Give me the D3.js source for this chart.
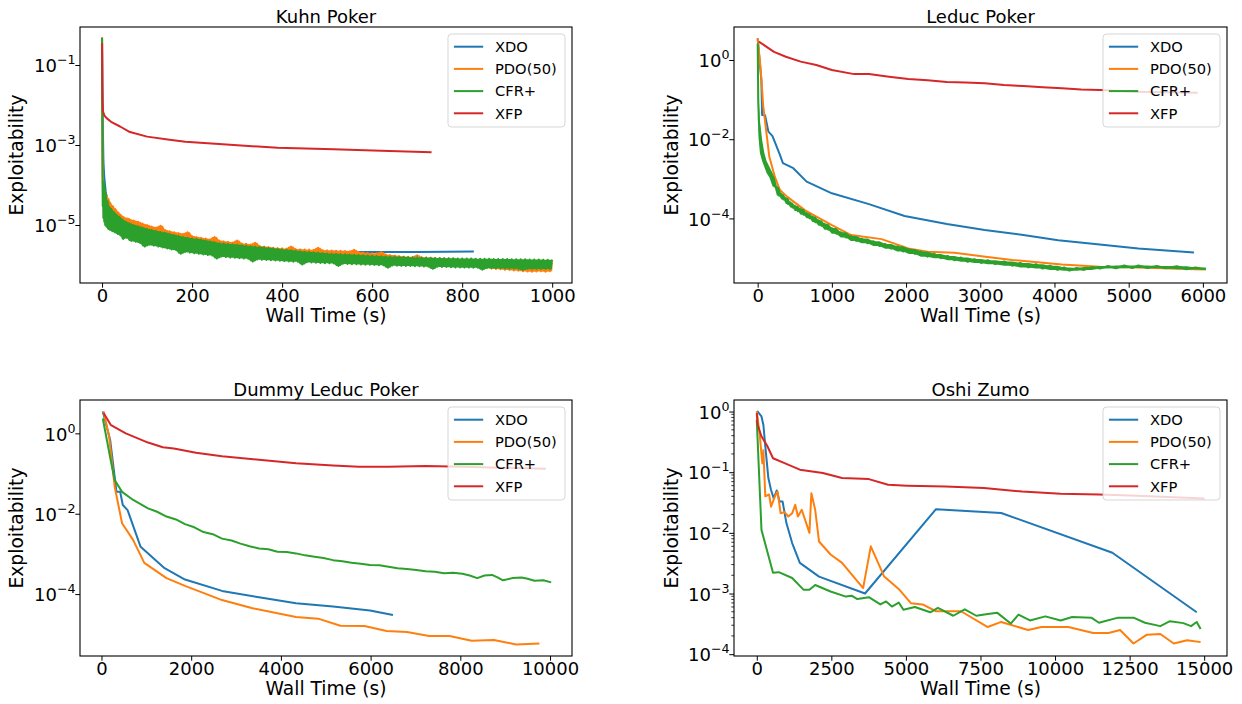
<!DOCTYPE html>
<html><head><meta charset="utf-8">
<script src="https://cdn.jsdelivr.net/npm/d3@7"></script>
<style>
body{margin:0;background:#fff}
svg{display:block}
text{font-family:"DejaVu Sans",sans-serif;fill:#000}
</style>
</head><body>
<svg id="c" width="1242" height="704"></svg>
<script>
// ---------------- data ----------------
const seriesNames = ["XDO", "PDO(50)", "CFR+", "XFP"];
const seriesColors = ["#1f77b4", "#ff7f0e", "#2ca02c", "#d62728"];
const titles = ["Kuhn Poker", "Leduc Poker", "Dummy Leduc Poker", "Oshi Zumo"];
const xLabel = "Wall Time (s)";
const yLabel = "Exploitability";
const xTickSets = [
  [0, 200, 400, 600, 800, 1000],
  [0, 1000, 2000, 3000, 4000, 5000, 6000],
  [0, 2000, 4000, 6000, 8000, 10000],
  [0, 2500, 5000, 7500, 10000, 12500, 15000]
];
const yTickSets = [
  [1e-5, 1e-3, 1e-1],
  [1e-4, 1e-2, 1],
  [1e-4, 1e-2, 1],
  [1e-4, 1e-3, 1e-2, 1e-1, 1]
];

// Kuhn Poker
const kuhnXdoT = [0, 1, 2, 3, 5, 8, 12, 20, 35, 60, 100, 150, 200, 300, 400, 500, 560, 700, 826];
const kuhnXdoE = [0.45, 3e-2, 2e-3, 4e-4, 1.5e-4, 7e-5, 4e-5, 2.5e-5, 1.5e-5, 1e-5, 7e-6, 5e-6, 3.8e-6, 2.8e-6, 2.3e-6, 2.15e-6, 2.1e-6, 2.12e-6, 2.18e-6];
const kuhnT = [0, 0.5, 1, 1.5, 2, 3, 4, 5, 6, 7, 8, 10, 12, 14, 16, 18, 20, 23, 26, 29, 32, 35, 38, 41, 44, 47, 50, 55,
  60, 65, 70, 75, 80, 85, 90, 95, 100, 105, 110, 115, 120, 125, 130, 135, 140, 145, 150, 155, 160, 165, 170, 175, 180, 185, 190, 195,
  200, 205, 210, 215, 220, 225, 230, 235, 240, 245, 250, 255, 260, 265, 270, 275, 280, 285, 290, 295,
  300, 305, 310, 315, 320, 325, 330, 335, 340, 345, 350, 355, 360, 365, 370, 375, 380, 385, 390, 395,
  400, 405, 410, 415, 420, 425, 430, 435, 440, 445, 450, 455, 460, 465, 470, 475, 480, 485, 490, 495,
  500, 505, 510, 515, 520, 525, 530, 535, 540, 545, 550, 555, 560, 565, 570, 575, 580, 585, 590, 595,
  600, 605, 610, 615, 620, 625, 630, 635, 640, 645, 650, 655, 660, 665, 670, 675, 680, 685, 690, 695,
  700, 705, 710, 715, 720, 725, 730, 735, 740, 745, 750, 755, 760, 765, 770, 775, 780, 785, 790, 795,
  800, 805, 810, 815, 820, 825, 830, 835, 840, 845, 850, 855, 860, 865, 870, 875, 880, 885, 890, 895,
  900, 905, 910, 915, 920, 925, 930, 935, 940, 945, 950, 955, 960, 965, 970, 975, 980, 985, 990, 995, 1000];
const kuhnPdoE = [0.5, 5e-3, 4e-4, 1.5e-4, 6e-5, 9e-5, 5e-5, 7e-5, 4.5e-5, 6.5e-5, 4e-5, 5.5e-5, 3e-5, 4.5e-5, 2.6e-5, 3.6e-5, 2.3e-5, 3e-5, 1.9e-5, 2.5e-5, 1.6e-5, 2.1e-5, 1.4e-5, 1.8e-5, 1.25e-5, 1.6e-5, 1.15e-5, 1.45e-5,
  1.4e-5, 1.05e-5, 1.3e-5, 9.8e-6, 1.2e-5, 9e-6, 1.08e-5, 8.2e-6, 1e-5, 7.6e-6, 9.2e-6, 7e-6, 8.6e-6, 6.5e-6, 9.6e-6, 6.1e-6, 7.5e-6, 5.7e-6, 7e-6, 5.3e-6, 6.6e-6, 5e-6, 6.3e-6, 4.8e-6, 6e-6, 4.5e-6, 6.6e-6, 4.3e-6,
  5.3e-6, 4e-6, 5e-6, 3.8e-6, 4.8e-6, 3.6e-6, 4.6e-6, 3.5e-6, 4.4e-6, 3.3e-6, 5e-6, 3.2e-6, 4.1e-6, 3.1e-6, 3.9e-6, 2.95e-6, 3.8e-6, 2.85e-6, 3.65e-6, 2.75e-6,
  4.1e-6, 2.7e-6, 3.45e-6, 2.6e-6, 3.4e-6, 2.55e-6, 3.25e-6, 2.45e-6, 3.6e-6, 2.35e-6, 3e-6, 2.3e-6, 2.9e-6, 2.2e-6, 2.8e-6, 2.1e-6, 2.7e-6, 2.05e-6, 2.65e-6, 2e-6,
  2.6e-6, 1.95e-6, 2.57e-6, 1.93e-6, 2.9e-6, 1.9e-6, 2.5e-6, 1.87e-6, 2.47e-6, 1.85e-6, 2.44e-6, 1.83e-6, 2.42e-6, 1.8e-6, 2.4e-6, 1.78e-6, 2.7e-6, 1.76e-6, 2.34e-6, 1.74e-6,
  2.32e-6, 1.72e-6, 2.3e-6, 1.7e-6, 2.28e-6, 1.68e-6, 2.26e-6, 1.66e-6, 2.24e-6, 1.64e-6, 2.2e-6, 1.62e-6, 2.4e-6, 1.58e-6, 2.1e-6, 1.55e-6, 2.05e-6, 1.52e-6, 2e-6, 1.5e-6,
  1.97e-6, 1.47e-6, 1.95e-6, 1.44e-6, 2.1e-6, 1.42e-6, 1.83e-6, 1.4e-6, 1.77e-6, 1.37e-6, 1.72e-6, 1.35e-6, 1.67e-6, 1.33e-6, 1.63e-6, 1.3e-6, 1.61e-6, 1.28e-6, 1.59e-6, 1.26e-6,
  1.75e-6, 1.24e-6, 1.55e-6, 1.2e-6, 1.54e-6, 1.17e-6, 1.52e-6, 1.15e-6, 1.5e-6, 1.13e-6, 1.49e-6, 1.1e-6, 1.48e-6, 1.08e-6, 1.46e-6, 1.05e-6, 1.44e-6, 1.03e-6, 1.42e-6, 1.01e-6,
  1.4e-6, 9.8e-7, 1.38e-6, 9.5e-7, 1.37e-6, 9.2e-7, 1.35e-6, 9e-7, 1.33e-6, 8.7e-7, 1.32e-6, 8.5e-7, 1.3e-6, 8.2e-7, 1.29e-6, 8e-7, 1.27e-6, 7.8e-7, 1.26e-6, 7.6e-7,
  1.25e-6, 7.5e-7, 1.23e-6, 7.3e-7, 1.21e-6, 7.2e-7, 1.2e-6, 7e-7, 1.2e-6, 6.9e-7, 1.2e-6, 6.8e-7, 1.2e-6, 6.9e-7, 1.2e-6, 7e-7, 1.2e-6, 6.8e-7, 1.2e-6, 7e-7, 1.15e-6];
const kuhnCfrE = [0.47, 3e-3, 2e-4, 3e-5, 1.1e-4, 1.5e-5, 1.2e-4, 1.2e-5, 8e-5, 1e-5, 6e-5, 9e-6, 4e-5, 8e-6, 2.8e-5, 7.5e-6, 2.5e-5, 7e-6, 2.1e-5, 6.5e-6, 1.8e-5, 6e-6, 1.6e-5, 5.5e-6, 1.4e-5, 4.5e-6, 1.25e-5, 4.8e-6,
  1.1e-5, 4e-6, 1e-5, 3.8e-6, 9.3e-6, 3.55e-6, 8.6e-6, 2.9e-6, 7.9e-6, 3.2e-6, 7.5e-6, 3.05e-6, 7.1e-6, 2.9e-6, 6.7e-6, 2.75e-6, 6.4e-6, 2.6e-6, 6e-6, 2.45e-6, 5.6e-6, 2.35e-6, 5.3e-6, 1.9e-6, 5e-6, 2.12e-6, 4.8e-6, 2.04e-6,
  4.6e-6, 1.97e-6, 4.45e-6, 1.9e-6, 4.3e-6, 1.84e-6, 4.1e-6, 1.78e-6, 3.9e-6, 1.72e-6, 3.7e-6, 1.45e-6, 3.5e-6, 1.62e-6, 3.43e-6, 1.58e-6, 3.36e-6, 1.54e-6, 3.28e-6, 1.51e-6,
  3.2e-6, 1.48e-6, 3.12e-6, 1.45e-6, 3.04e-6, 1.43e-6, 2.96e-6, 1.22e-6, 2.88e-6, 1.38e-6, 2.8e-6, 1.35e-6, 2.73e-6, 1.33e-6, 2.66e-6, 1.31e-6, 2.59e-6, 1.29e-6, 2.52e-6, 1.27e-6,
  2.45e-6, 1.25e-6, 2.39e-6, 1.23e-6, 2.33e-6, 1.21e-6, 2.27e-6, 1.2e-6, 2.21e-6, 1.03e-6, 2.15e-6, 1.17e-6, 2.11e-6, 1.15e-6, 2.07e-6, 1.14e-6, 2.03e-6, 1.12e-6, 1.99e-6, 1.11e-6,
  1.95e-6, 1.1e-6, 1.92e-6, 1.09e-6, 1.9e-6, 9.4e-7, 1.87e-6, 1.07e-6, 1.85e-6, 1.06e-6, 1.82e-6, 1.05e-6, 1.8e-6, 1.04e-6, 1.77e-6, 1.03e-6, 1.75e-6, 1.02e-6, 1.72e-6, 1.01e-6,
  1.7e-6, 1e-6, 1.68e-6, 9.9e-7, 1.66e-6, 9.8e-7, 1.64e-6, 8.5e-7, 1.62e-6, 9.7e-7, 1.61e-6, 9.6e-7, 1.59e-6, 9.5e-7, 1.58e-6, 9.4e-7, 1.56e-6, 9.4e-7, 1.55e-6, 9.3e-7,
  1.54e-6, 9.3e-7, 1.53e-6, 9.2e-7, 1.52e-6, 9.1e-7, 1.51e-6, 8e-7, 1.5e-6, 9e-7, 1.49e-6, 8.9e-7, 1.48e-6, 8.9e-7, 1.48e-6, 8.8e-7, 1.47e-6, 8.7e-7, 1.46e-6, 8.7e-7,
  1.46e-6, 8.6e-7, 1.45e-6, 8.6e-7, 1.45e-6, 8.5e-7, 1.44e-6, 8.5e-7, 1.44e-6, 7.6e-7, 1.44e-6, 8.4e-7, 1.43e-6, 8.3e-7, 1.42e-6, 8.3e-7, 1.42e-6, 8.3e-7, 1.41e-6, 8.2e-7,
  1.41e-6, 8.2e-7, 1.4e-6, 8.2e-7, 1.4e-6, 8.1e-7, 1.39e-6, 7.5e-7, 1.39e-6, 8.1e-7, 1.38e-6, 8e-7, 1.37e-6, 8e-7, 1.37e-6, 8e-7, 1.36e-6, 8e-7, 1.36e-6, 8e-7, 1.35e-6];
const kuhnXfpT = [0, 0.5, 1, 2, 5, 10, 20, 40, 60, 100, 150, 185, 268, 390, 514, 620, 732];
const kuhnXfpE = [0.35, 0.03, 0.012, 7e-3, 5.5e-3, 4.7e-3, 3.8e-3, 2.9e-3, 2.15e-3, 1.62e-3, 1.35e-3, 1.2e-3, 1.05e-3, 8.5e-4, 7.8e-4, 7.2e-4, 6.6e-4];

// Leduc Poker
const leducXdoT = [0, 50, 60, 100, 145, 200, 300, 340, 480, 660, 1000, 1500, 1980, 2550, 3060, 3580, 4050, 4610, 5130, 5880];
const leducXdoE = [3.5, 0.3, 0.041, 0.04, 0.0155, 0.012, 4e-3, 2.5e-3, 1.85e-3, 8.5e-4, 4.3e-4, 2.3e-4, 1.15e-4, 7.2e-5, 5.1e-5, 3.8e-5, 2.8e-5, 2.2e-5, 1.75e-5, 1.38e-5];
const leducPdoT = [0, 40, 76, 157, 233, 300, 400, 640, 1000, 1260, 1670, 2030, 2290, 2650, 3070, 3430, 4100, 4610, 5130, 6010];
const leducPdoE = [3.5, 0.6, 0.066, 3.6e-3, 1.1e-3, 5.2e-4, 3.5e-4, 1.6e-4, 6.8e-5, 3.8e-5, 3e-5, 1.75e-5, 1.45e-5, 1.36e-5, 1.08e-5, 8.9e-6, 6.9e-6, 6e-6, 5.8e-6, 5.1e-6];
const leducCfrT = [0, 8, 15, 30, 60, 90, 120, 160, 200, 230, 260, 290, 320, 350, 380, 410, 440, 470, 500, 540, 580, 620, 660, 700, 740, 780, 820, 860, 900, 950, 1000,
  1060, 1120, 1190, 1256, 1330, 1400, 1480, 1560, 1640, 1720, 1800, 1880, 1960, 2040, 2120, 2200, 2290, 2380, 2470, 2560, 2650, 2740, 2830, 2920, 3010, 3100, 3200, 3323,
  3430, 3540, 3650, 3750, 3840, 3940, 4040, 4130, 4200, 4300, 4400, 4500, 4614, 4720, 4830, 4940, 5050, 5132, 5250, 5380, 5500, 5650, 5780, 5900, 6040];
const leducCfrE = [2.6, 0.1, 0.03, 9.5e-3, 4.5e-3, 2.8e-3, 2e-3, 1.4e-3, 1.06e-3, 6.5e-4, 6e-4, 3.76e-4, 4.1e-4, 3e-4, 3.27e-4, 2.3e-4, 2.54e-4, 1.88e-4, 2.1e-4, 1.53e-4, 1.72e-4, 1.24e-4, 1.36e-4, 1.01e-4, 1.11e-4, 8e-5, 9e-5, 6.5e-5, 7.3e-5, 5.2e-5, 5.7e-5,
  4.1e-5, 4.5e-5, 3.3e-5, 3.6e-5, 2.7e-5, 3.1e-5, 2.37e-5, 2.66e-5, 2.02e-5, 2.26e-5, 1.72e-5, 1.97e-5, 1.46e-5, 1.68e-5, 1.27e-5, 1.46e-5, 1.08e-5, 1.27e-5, 9.9e-6, 1.13e-5, 8.8e-6, 1.03e-5, 8e-6, 9.4e-6, 7.5e-6, 8.8e-6, 7e-6, 8.2e-6,
  6.4e-6, 7.5e-6, 5.8e-6, 7e-6, 5.4e-6, 6.4e-6, 5e-6, 5.8e-6, 4.8e-6, 5.6e-6, 5e-6, 5.9e-6, 5.4e-6, 6.3e-6, 5.5e-6, 6.5e-6, 5.6e-6, 6.5e-6, 5.6e-6, 6.3e-6, 5.5e-6, 6.2e-6, 5.2e-6, 5.8e-6, 5.1e-6];
const leducXfpT = [16, 220, 380, 580, 790, 1000, 1300, 1500, 1770, 2030, 2290, 2550, 2800, 3060, 3320, 3580, 3840, 4100, 4360, 4610, 5130, 5930];
const leducXfpE = [2.9, 1.6, 1.21, 0.91, 0.75, 0.56, 0.44, 0.44, 0.38, 0.33, 0.31, 0.28, 0.27, 0.26, 0.234, 0.22, 0.204, 0.193, 0.18, 0.175, 0.158, 0.15];

// Dummy Leduc Poker
const dummyXdoT = [29, 194, 294, 334, 417, 475, 582, 872, 1407, 1862, 2687, 3512, 4337, 5162, 5987, 6498];
const dummyXdoE = [3.5, 0.68, 0.083, 0.035, 0.035, 0.0165, 0.0123, 1.5e-3, 4.4e-4, 2.3e-4, 1.2e-4, 8.3e-5, 5.9e-5, 4.9e-5, 3.9e-5, 3e-5];
const dummyPdoT = [47, 170, 294, 459, 707, 954, 1449, 1862, 2687, 3347, 4337, 4831, 5326, 5862, 6357, 6811, 7305, 7759, 8254, 8749, 9244, 9764];
const dummyPdoE = [3.5, 0.83, 0.047, 5.8e-3, 2.2e-3, 6e-4, 2.5e-4, 1.6e-4, 7.1e-5, 4.5e-5, 2.7e-5, 2.45e-5, 1.63e-5, 1.6e-5, 1.2e-5, 1.14e-5, 9.1e-6, 9.1e-6, 6.9e-6, 7.2e-6, 5.6e-6, 5.9e-6];
const dummyCfrT = [29, 212, 294, 459, 707, 1037, 1240, 1449, 1660, 1862, 2070, 2274, 2480, 2687, 2900, 3099, 3300, 3512, 3720, 3924, 4130, 4337, 4540, 4749, 4950, 5162, 5370, 5574, 5780, 5987, 6200, 6399, 6600, 6811, 7020, 7224, 7430, 7636, 7840, 8047, 8210, 8377, 8540, 8707, 8830, 8950, 9160, 9363, 9500, 9654, 9850, 10026];
const dummyCfrE = [2.35, 0.196, 0.069, 0.035, 0.022, 0.0136, 0.0112, 8.5e-3, 7.2e-3, 5.5e-3, 4.6e-3, 3.5e-3, 3.1e-3, 2.4e-3, 2.15e-3, 1.8e-3, 1.55e-3, 1.37e-3, 1.3e-3, 1.13e-3, 1.12e-3, 1.03e-3, 9.2e-4, 8.5e-4, 7.9e-4, 7e-4, 6.6e-4, 6e-4, 5.7e-4, 5.3e-4, 5.2e-4, 4.8e-4, 4.4e-4, 4.2e-4, 4.0e-4, 3.7e-4, 3.6e-4, 3.3e-4, 3.4e-4, 3.2e-4, 2.9e-4, 2.5e-4, 2.9e-4, 3e-4, 2.6e-4, 2.2e-4, 2.5e-4, 2.6e-4, 2.4e-4, 2.15e-4, 2.2e-4, 1.96e-4];
const dummyXfpT = [47, 212, 542, 1037, 1367, 1614, 2107, 2687, 3512, 4337, 5162, 5739, 6399, 7224, 8047, 8872, 9904];
const dummyXfpE = [3.2, 1.6, 1.0, 0.59, 0.45, 0.42, 0.33, 0.27, 0.22, 0.18, 0.159, 0.148, 0.148, 0.154, 0.148, 0.14, 0.132];

// Oshi Zumo
const oshiXdoT = [0, 30, 158, 222, 286, 389, 479, 569, 672, 762, 865, 994, 1187, 1445, 2088, 3630, 6009, 8194, 11922, 14750];
const oshiXdoE = [0.94, 1.0, 0.83, 0.6, 0.27, 0.08, 0.051, 0.037, 0.05, 0.033, 0.033, 0.0145, 6.8e-3, 3.2e-3, 1.9e-3, 1e-3, 0.0246, 0.0213, 4.7e-3, 4.9e-4];
const oshiPdoT = [0, 94, 187, 222, 286, 414, 479, 608, 698, 801, 930, 1059, 1187, 1290, 1380, 1509, 1638, 1766, 1831, 1959, 2088, 2474, 2860, 3566, 3823, 4273, 4787, 5173, 5559, 6009, 6845, 7745, 8194, 9094, 9544, 10444, 11280, 11794, 12180, 12630, 13080, 13530, 13980, 14430, 14880];
const oshiPdoE = [1.0, 0.44, 0.14, 0.23, 0.04, 0.043, 0.027, 0.04, 0.048, 0.021, 0.022, 0.0186, 0.021, 0.029, 0.0186, 0.024, 0.0155, 0.01, 0.045, 0.024, 7.2e-3, 4.4e-3, 3.2e-3, 1.23e-3, 6e-3, 1.9e-3, 1.15e-3, 6.9e-4, 6.6e-4, 5.1e-4, 5.1e-4, 2.8e-4, 3.4e-4, 2.5e-4, 2.8e-4, 2.8e-4, 2.24e-4, 2.24e-4, 2.5e-4, 1.5e-4, 2.1e-4, 2.15e-4, 1.5e-4, 1.7e-4, 1.58e-4];
const oshiCfrT = [0, 158, 545, 738, 1187, 1574, 1766, 1959, 2474, 2989, 3180, 3373, 3758, 4144, 4337, 4530, 4761, 4916, 5302, 5816, 6073, 6588, 6974, 7360, 7745, 8066, 8516, 8774, 9159, 9674, 10188, 10574, 11216, 11472, 12115, 12630, 13015, 13530, 13852, 14302, 14559, 14750, 14880];
const oshiCfrE = [0.73, 0.0112, 2.2e-3, 2.25e-3, 1.8e-3, 1.15e-3, 1.15e-3, 1.38e-3, 1.08e-3, 8.9e-4, 9.2e-4, 8.1e-4, 8.7e-4, 6.6e-4, 7.4e-4, 6.1e-4, 7.1e-4, 5.4e-4, 6e-4, 4.9e-4, 5.8e-4, 4.3e-4, 5.5e-4, 4.3e-4, 4.6e-4, 4.8e-4, 3.2e-4, 4.5e-4, 3.6e-4, 4.2e-4, 3.6e-4, 4.1e-4, 4e-4, 3.3e-4, 4e-4, 4e-4, 3.3e-4, 2.9e-4, 3.5e-4, 3.25e-4, 2.9e-4, 3.4e-4, 2.6e-4];
const oshiXfpT = [0, 30, 158, 353, 545, 931, 1445, 2215, 2860, 3758, 4403, 5045, 6330, 7617, 8901, 10188, 11472, 12760, 15012];
const oshiXfpE = [0.94, 0.6, 0.39, 0.27, 0.17, 0.141, 0.11, 0.097, 0.08, 0.077, 0.062, 0.06, 0.058, 0.055, 0.048, 0.044, 0.043, 0.041, 0.037];

// ---------------- layout ----------------
// "dense": series whose many oscillating samples render as a solid band
const frames = [
  {left: 80,  right: 572,  top: 27,  bottom: 283, xlim: [-49, 1044],   ylim: [3.55e-7, 0.891], ylabX: 23,  minor: false, dense: [1, 2]},
  {left: 734, right: 1227, top: 27,  bottom: 283, xlim: [-319, 6325],  ylim: [2.34e-6, 6.81],  ylabX: 678, minor: false, dense: [2]},
  {left: 80,  right: 572,  top: 400, bottom: 656, xlim: [-479, 10490], ylim: [2.88e-6, 6.76],  ylabX: 23,  minor: false, dense: []},
  {left: 734, right: 1227, top: 400, bottom: 656, xlim: [-763, 15765], ylim: [9.33e-5, 1.55],  ylabX: 678, minor: true,  dense: []}
];
const panelSeries = [
  [[kuhnXdoT, kuhnXdoE], [kuhnT, kuhnPdoE], [kuhnT, kuhnCfrE], [kuhnXfpT, kuhnXfpE]],
  [[leducXdoT, leducXdoE], [leducPdoT, leducPdoE], [leducCfrT, leducCfrE], [leducXfpT, leducXfpE]],
  [[dummyXdoT, dummyXdoE], [dummyPdoT, dummyPdoE], [dummyCfrT, dummyCfrE], [dummyXfpT, dummyXfpE]],
  [[oshiXdoT, oshiXdoE], [oshiPdoT, oshiPdoE], [oshiCfrT, oshiCfrE], [oshiXfpT, oshiXfpE]]
];

const svg = d3.select("#c");
svg.append("rect").attr("width", 1242).attr("height", 704).attr("fill", "#fff");

frames.forEach((F, i) => {
  const x = d3.scaleLinear().domain(F.xlim).range([F.left, F.right]);
  const y = d3.scaleLog().domain(F.ylim).range([F.bottom, F.top]);
  const g = svg.append("g");
  const clipId = "clip" + i;
  g.append("clipPath").attr("id", clipId).append("rect")
    .attr("x", F.left).attr("y", F.top).attr("width", F.right - F.left).attr("height", F.bottom - F.top);

  const line = d3.line().x(d => x(d[0])).y(d => y(d[1]));
  const band = d3.area().x(d => x(d[0])).y0(d => y(d[2])).y1(d => y(d[3]));
  panelSeries[i].forEach((s, k) => {
    const pts = d3.zip(s[0], s[1]);
    if (F.dense.includes(k)) {
      // min/max envelope of neighbouring samples: what the dense oscillating line covers
      const env = pts.map((p, j) => {
        const w = s[1].slice(Math.max(0, j - 1), j + 2);
        return [p[0], p[1], d3.min(w), d3.max(w)];
      });
      g.append("path").datum(env).attr("d", band)
        .attr("fill", seriesColors[k]).attr("stroke", "none")
        .attr("clip-path", `url(#${clipId})`);
    }
    g.append("path")
      .datum(pts)
      .attr("d", line)
      .attr("fill", "none")
      .attr("stroke", seriesColors[k])
      .attr("stroke-width", 2)
      .attr("stroke-linejoin", "round")
      .attr("stroke-linecap", "butt")
      .attr("clip-path", `url(#${clipId})`);
  });

  // x axis
  const gx = g.append("g").attr("transform", `translate(0,${F.bottom})`)
    .call(d3.axisBottom(x).tickValues(xTickSets[i]).tickFormat(d3.format("d")).tickSize(4.7).tickSizeOuter(0));
  gx.select(".domain").remove();
  gx.selectAll(".tick line").attr("stroke", "#000").attr("stroke-width", 1);
  gx.selectAll(".tick text").attr("y", 19).attr("dy", null)
    .style("font-size", "18px").style("font-family", "DejaVu Sans").attr("fill", "#000");

  // y axis
  const gy = g.append("g").attr("transform", `translate(${F.left},0)`)
    .call(d3.axisLeft(y).tickValues(yTickSets[i]).tickSize(4.7).tickSizeOuter(0).tickFormat(() => ""));
  gy.select(".domain").remove();
  gy.selectAll(".tick line").attr("stroke", "#000").attr("stroke-width", 1);
  gy.selectAll(".tick text").each(function(d) {
    const t = d3.select(this);
    const e = Math.round(Math.log10(d));
    t.text(null).attr("x", -4.5).attr("y", 6.7).attr("dy", null)
      .attr("text-anchor", "end").attr("fill", "#000")
      .style("font-family", "DejaVu Sans");
    t.append("tspan").style("font-size", "18px").text("10");
    t.append("tspan").style("font-size", "12.6px").attr("dy", -8)
      .text(e < 0 ? "\u2212" + Math.abs(e) : String(e));
  });

  if (F.minor) {
    const minorVals = [];
    for (let p = -5; p <= 0; p++) for (let m = 2; m <= 9; m++) {
      const v = m * Math.pow(10, p);
      if (v > F.ylim[0] && v < F.ylim[1]) minorVals.push(v);
    }
    g.append("g").selectAll("line").data(minorVals).join("line")
      .attr("x1", F.left - 2.7).attr("x2", F.left)
      .attr("y1", d => y(d)).attr("y2", d => y(d))
      .attr("stroke", "#000").attr("stroke-width", 0.8);
  }

  // spines
  g.append("rect").attr("x", F.left).attr("y", F.top)
    .attr("width", F.right - F.left).attr("height", F.bottom - F.top)
    .attr("fill", "none").attr("stroke", "#000").attr("stroke-width", 1.1);

  // labels
  g.append("text").attr("x", (F.left + F.right) / 2).attr("y", F.top - 4)
    .attr("text-anchor", "middle").style("font-size", "18px").text(titles[i]);
  g.append("text").attr("x", (F.left + F.right) / 2).attr("y", F.bottom + 38.5)
    .attr("text-anchor", "middle").style("font-size", "18.67px").text(xLabel);
  g.append("text").attr("transform", `translate(${F.ylabX},${(F.top + F.bottom) / 2}) rotate(-90)`)
    .attr("text-anchor", "middle").style("font-size", "18.67px").text(yLabel);

  // legend
  const lw = 117, lh = 93;
  const lg = g.append("g").attr("transform", `translate(${F.right - 7 - lw},${F.top + 7})`);
  lg.append("rect").attr("width", lw).attr("height", lh).attr("rx", 3.5)
    .attr("fill", "#fff").attr("fill-opacity", 0.8)
    .attr("stroke", "#cccccc").attr("stroke-opacity", 0.8).attr("stroke-width", 1);
  seriesNames.forEach((name, k) => {
    const cy = 12.7 + 22.2 * k;
    lg.append("line").attr("x1", 5.9).attr("x2", 35.2).attr("y1", cy).attr("y2", cy)
      .attr("stroke", seriesColors[k]).attr("stroke-width", 2);
    lg.append("text").attr("x", 47).attr("y", cy + 5.3)
      .style("font-size", "14.67px").text(name);
  });
});
</script>
</body></html>
